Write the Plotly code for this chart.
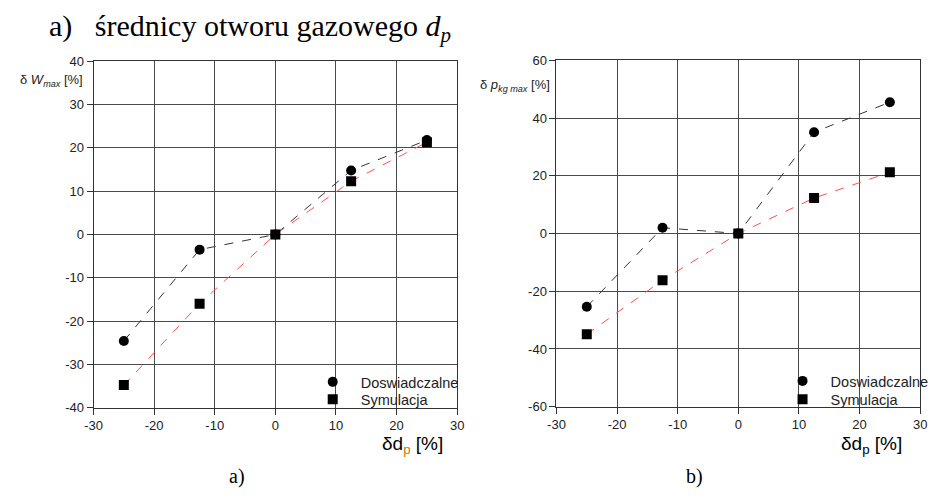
import plotly.graph_objects as go

# data
x_vals = [-25, -12.5, 0, 12.5, 25]
w_dosw = [-24.6, -3.5, 0, 14.8, 21.8]
w_sym = [-34.8, -16.0, 0, 12.3, 21.3]
p_dosw = [-25.4, 2.0, 0, 35.1, 45.5]
p_sym = [-34.9, -16.2, 0, 12.3, 21.2]
label_dosw = "Doswiadczalne"
label_sym = "Symulacja"
x_ticks = [-30, -20, -10, 0, 10, 20, 30]
w_ticks = [-40, -30, -20, -10, 0, 10, 20, 30, 40]
p_ticks = [-60, -40, -20, 0, 20, 40, 60]

W, H = 936, 501
fig = go.Figure()
PAD = "\u00a0\u00a0"

def add_panel(xa, ya, dosw, sym, leg_d, leg_s):
    fig.add_trace(go.Scatter(x=x_vals, y=dosw, mode="lines+markers", xaxis=xa, yaxis=ya,
                             line=dict(color="#333333", width=1, dash="dash"),
                             marker=dict(symbol="circle", size=10, color="black"),
                             showlegend=False))
    fig.add_trace(go.Scatter(x=x_vals, y=sym, mode="lines+markers", xaxis=xa, yaxis=ya,
                             line=dict(color="#ff5050", width=1, dash="dash"),
                             marker=dict(symbol="square", size=10, color="black"),
                             showlegend=False))
    fig.add_trace(go.Scatter(x=[None], y=[None], mode="markers", xaxis=xa, yaxis=ya,
                             marker=dict(symbol="circle", size=10, color="black"),
                             name=PAD + label_dosw, legend=leg_d))
    fig.add_trace(go.Scatter(x=[None], y=[None], mode="markers", xaxis=xa, yaxis=ya,
                             marker=dict(symbol="square", size=10, color="black"),
                             name=PAD + label_sym, legend=leg_s))

add_panel("x", "y", w_dosw, w_sym, "legend", "legend2")
add_panel("x2", "y2", p_dosw, p_sym, "legend3", "legend4")

def lbl(v):
    return str(v).replace("\u2212", "-")

axfont = dict(family="Liberation Sans, Arial", size=13, color="#222222")
common = dict(showgrid=True, gridcolor="#4a4a4a", gridwidth=1, zeroline=False,
              showline=True, linecolor="#333333", linewidth=1, mirror=True,
              ticks="outside", ticklen=6, tickcolor="#333333", tickfont=axfont)
legfont = dict(family="Liberation Sans, Arial", size=14.5, color="#222222")

def leg(xp, yp):
    return dict(x=xp/W, y=1-yp/H, xanchor="left", yanchor="top", bgcolor="rgba(0,0,0,0)",
                font=legfont, tracegroupgap=0, itemwidth=30)

fig.update_layout(
    width=W, height=H, margin=dict(l=0, r=0, t=0, b=0),
    paper_bgcolor="white", plot_bgcolor="white",
    xaxis=dict(domain=[86/W, 456/W], range=[-30, 30], tickvals=x_ticks,
               ticktext=[lbl(v) for v in x_ticks], anchor="y", **common),
    yaxis=dict(domain=[1-413/H, 1-56/H], range=[-40, 40], tickvals=w_ticks,
               ticktext=[lbl(v) for v in w_ticks], anchor="x", **common),
    xaxis2=dict(domain=[557/W, 927/W], range=[-30, 30], tickvals=x_ticks,
                ticktext=[lbl(v) for v in x_ticks], anchor="y2", **common),
    yaxis2=dict(domain=[1-412/H, 1-55/H], range=[-60, 60], tickvals=p_ticks,
                ticktext=[lbl(v) for v in p_ticks], anchor="x2", **common),
    legend=leg(309, 370),
    legend2=leg(309, 388),
    legend3=leg(787, 369),
    legend4=leg(787, 388),
)

ann = []
ann.append(dict(text="a)&nbsp;&nbsp;&nbsp;średnicy otworu gazowego <i>d<sub>p</sub></i>",
                x=39/W, y=1-22/H, xref="paper", yref="paper", xanchor="left", yanchor="middle",
                showarrow=False, font=dict(family="Liberation Serif, Times New Roman", size=30, color="black")))
ann.append(dict(text="δ <i>W</i><sub><i>max</i></sub> [%]", x=9/W, y=1-76/H, xref="paper", yref="paper",
                xanchor="left", yanchor="middle", showarrow=False,
                font=dict(family="Liberation Sans, Arial", size=13, color="#222222")))
ann.append(dict(text="δ <i>p</i><sub><i>kg max</i></sub> [%]", x=477/W, y=1-81/H, xref="paper", yref="paper",
                xanchor="left", yanchor="middle", showarrow=False,
                font=dict(family="Liberation Sans, Arial", size=13, color="#222222")))
ann.append(dict(text="δd<sub><span style='color:#c87800'>p</span></sub> [%]", x=411/W, y=1-452/H,
                xref="paper", yref="paper", xanchor="center", yanchor="middle", showarrow=False,
                font=dict(family="Liberation Sans, Arial", size=19, color="black")))
ann.append(dict(text="δd<sub>p</sub> [%]", x=877/W, y=1-452/H,
                xref="paper", yref="paper", xanchor="center", yanchor="middle", showarrow=False,
                font=dict(family="Liberation Sans, Arial", size=19, color="black")))
ann.append(dict(text="a)", x=232/W, y=1-484/H, xref="paper", yref="paper", xanchor="center",
                yanchor="middle", showarrow=False,
                font=dict(family="Liberation Serif, Times New Roman", size=20, color="black")))
ann.append(dict(text="b)", x=697/W, y=1-484/H, xref="paper", yref="paper", xanchor="center",
                yanchor="middle", showarrow=False,
                font=dict(family="Liberation Serif, Times New Roman", size=20, color="black")))
fig.update_layout(annotations=ann)

fig.write_html("out.html")
